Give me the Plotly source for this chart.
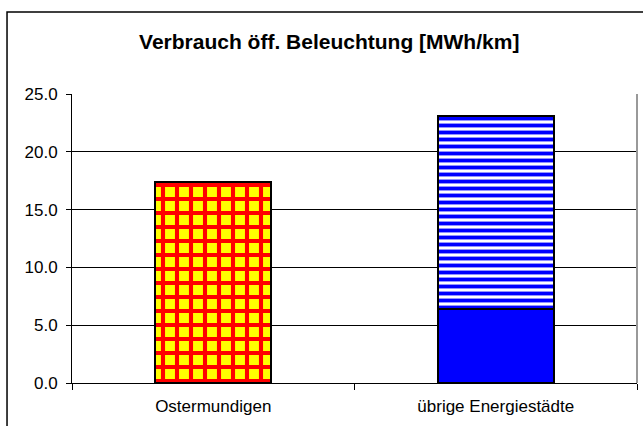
import plotly.graph_objects as go

categories = ["Ostermundigen", "übrige Energiestädte"]
solid_values = [None, 6.4]
pattern_values = [17.4, 16.7]
y_ticks = [0, 5, 10, 15, 20, 25]
y_tick_labels = ["0.0", "5.0", "10.0", "15.0", "20.0", "25.0"]
title_text = "Verbrauch öff. Beleuchtung [MWh/km]"

fig = go.Figure()

# Ostermundigen: checkerboard-like red/yellow
fig.add_trace(go.Bar(
    x=[categories[0]], y=[pattern_values[0]],
    width=0.41,
    marker=dict(
        color="#FFFF00",
        line=dict(color="black", width=2),
        pattern=dict(shape="+", fgcolor="#FF0000", bgcolor="#FFFF00",
                     size=14, solidity=0.5, fillmode="replace"),
    ),
    showlegend=False, hoverinfo="skip",
))

# übrige Energiestädte: solid blue base
fig.add_trace(go.Bar(
    x=[categories[1]], y=[solid_values[1]],
    width=0.41,
    marker=dict(color="#0000FF", line=dict(color="black", width=2)),
    showlegend=False, hoverinfo="skip",
))

# übrige Energiestädte: striped upper part
fig.add_trace(go.Bar(
    x=[categories[1]], y=[pattern_values[1]],
    width=0.41,
    marker=dict(
        color="white",
        line=dict(color="black", width=2),
        pattern=dict(shape="-", fgcolor="#0000FF", bgcolor="white",
                     size=7, solidity=0.55, fillmode="replace"),
    ),
    showlegend=False, hoverinfo="skip",
))

fig.update_layout(
    barmode="stack",
    width=643, height=426,
    margin=dict(l=72, r=6, t=94, b=43, autoexpand=False),
    paper_bgcolor="white", plot_bgcolor="white",
    font=dict(family="Liberation Sans, Arial, sans-serif", size=17, color="black"),
    title=dict(text="<b>" + title_text + "</b>", x=0.512, xanchor="center",
               y=1 - 42 / 426, yanchor="middle",
               font=dict(size=21, color="black")),
    xaxis=dict(
        type="category", tickson="boundaries",
        ticks="outside", ticklen=6, tickcolor="black", tickwidth=1,
        showline=True, linecolor="black", linewidth=1,
        showgrid=False, ticklabelstandoff=8,
        tickfont=dict(size=17, color="black"),
    ),
    yaxis=dict(
        range=[0, 25], tickvals=y_ticks, ticktext=y_tick_labels,
        ticks="outside", ticklen=5, tickcolor="black", tickwidth=1,
        showline=True, linecolor="black", linewidth=1,
        showgrid=True, gridcolor="black", gridwidth=1,
        zeroline=False, ticklabelstandoff=5,
        tickfont=dict(size=17, color="black"),
    ),
    shapes=[
        # grey right border of plot area
        dict(type="line", xref="paper", yref="paper", x0=1, x1=1, y0=0, y1=1,
             line=dict(color="#999999", width=2)),
        # outer chart frame
        dict(type="rect", xref="paper", yref="paper",
             x0=-0.115, x1=1.2, y0=-0.4, y1=1.2837,
             line=dict(color="black", width=1.5), layer="below"),
    ],
)

fig.write_html(
    "out.html",
    config={"displayModeBar": False},
    post_script="document.body.style.margin='0px';document.body.style.overflow='hidden';",
)
